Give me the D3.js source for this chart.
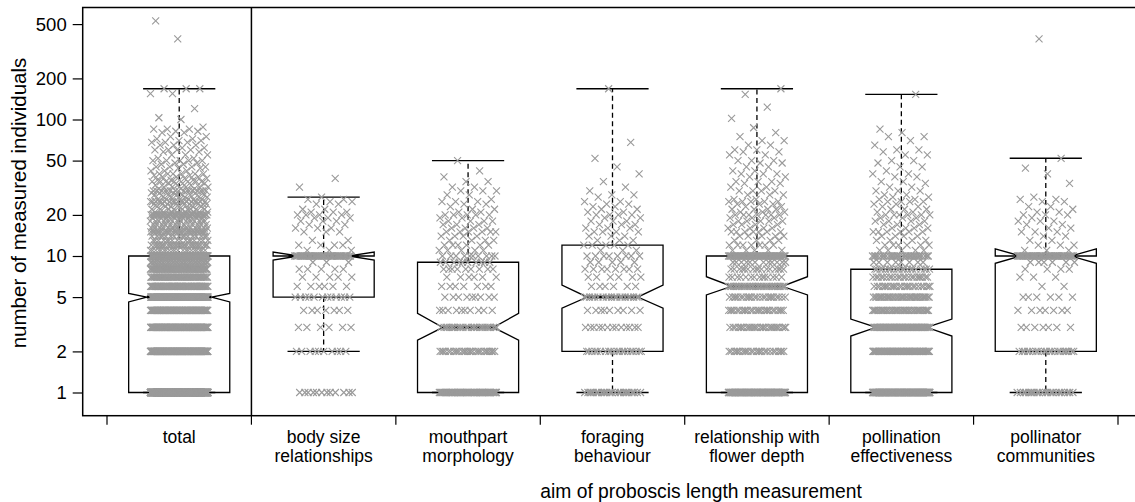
<!DOCTYPE html>
<html><head><meta charset="utf-8">
<script src="https://cdnjs.cloudflare.com/ajax/libs/d3/7.8.5/d3.min.js"></script>
<style>body{margin:0;background:#fff}svg{display:block}</style>
</head><body><svg id="chart" width="1135" height="502"></svg>
<script>
// ---------- data ----------
const categories = ["total","body size relationships","mouthpart morphology","foraging behaviour","relationship with flower depth","pollination effectiveness","pollinator communities"];
const categoryLabels = [["total"],["body size","relationships"],["mouthpart","morphology"],["foraging","behaviour"],["relationship with","flower depth"],["pollination","effectiveness"],["pollinator","communities"]];
const yTicks = [1,2,5,10,20,50,100,200,500];
const yTitle = "number of measured individuals";
const xTitle = "aim of proboscis length measurement";

const whiskerLow  = [1, 2, 1, 1, 1, 1, 1];
const quartile1   = [1, 5, 1, 2, 1, 1, 2];
const medians     = [5, 10, 3, 5, 6, 3, 10];
const quartile3   = [10, 10, 9, 12, 10, 8, 10];
const whiskerHigh = [168, 27, 50, 168, 168, 153, 52];
const notchLow    = [4.61, 9.35, 2.42, 4.14, 5.18, 2.59, 8.84];
const notchHigh   = [5.32, 10.7, 3.8, 6.13, 7.05, 3.45, 11.3];

// [value, number of observations]
const pointsTotal = [[1,480],[2,200],[3,130],[4,110],[5,150],[6,80],[7,55],[8,70],[9,35],[10,140],
 [11,20],[12,30],[13,16],[14,16],[15,30],[16,16],[17,12],[18,16],[19,9],[20,35],[21,8],[22,9],[23,6],[24,9],[25,18],[26,6],[27,5],[28,6],[29,4],[30,16],[31,3],[32,5],[33,3],[34,3],[35,7],[36,4],[37,2],[38,3],[39,2],[40,6],[42,3],[44,2],[45,4],[47,2],[48,2],[50,5],[52,2],[55,3],[58,2],[60,4],[62,2],[65,3],[68,3],[70,2],[72,2],[75,2],[80,2],[82,2],[85,3],[88,1],[100,1],[103,1],[120,1],[155,2],[168,3],[390,1],[527,1]];
const pointsBodySize = [[1,12],[2,10],[3,6],[4,7],[5,12],[6,6],[7,5],[8,5],[9,3],[10,45],[11,3],[12,4],[13,2],[15,3],[16,3],[17,2],[18,3],[19,3],[20,4],[21,3],[22,2],[24,2],[25,2],[26,2],[27,1],[32,1],[37,1]];
const pointsMouthpart = [[1,60],[2,28],[3,28],[4,10],[5,9],[6,7],[7,6],[8,9],[9,10],[10,10],[11,5],[12,6],[13,4],[14,4],[15,6],[16,4],[17,3],[18,4],[19,2],[20,5],[21,2],[22,2],[23,1],[24,2],[25,3],[26,1],[28,2],[30,3],[32,2],[35,2],[38,1],[42,1],[50,1]];
const pointsForaging = [[1,24],[2,20],[3,13],[4,9],[5,20],[6,6],[7,6],[8,8],[9,5],[10,8],[11,3],[12,5],[13,3],[14,3],[15,4],[16,3],[17,3],[18,3],[19,2],[20,4],[21,2],[22,2],[23,2],[24,2],[25,2],[27,1],[28,2],[30,1],[32,1],[35,1],[40,1],[45,1],[52,1],[68,1],[168,1]];
const pointsFlowerDepth = [[1,100],[2,25],[3,28],[4,26],[5,24],[6,35],[7,14],[8,16],[9,12],[10,50],[11,5],[12,7],[13,4],[14,5],[15,7],[16,4],[17,4],[18,5],[19,3],[20,7],[21,3],[22,4],[23,2],[24,3],[25,5],[26,2],[28,3],[30,4],[32,2],[34,2],[35,3],[38,2],[40,3],[42,2],[45,2],[48,2],[50,3],[55,2],[58,2],[60,2],[65,2],[70,2],[75,1],[80,1],[87,1],[102,1],[123,1],[153,1],[168,1]];
const pointsPollination = [[1,140],[2,70],[3,70],[4,40],[5,40],[6,25],[7,22],[8,20],[9,8],[10,30],[11,5],[12,6],[13,4],[14,4],[15,6],[16,4],[17,3],[18,4],[19,3],[20,6],[21,2],[22,3],[23,2],[24,2],[25,4],[26,2],[27,2],[28,2],[30,3],[32,2],[34,1],[35,2],[38,2],[40,2],[42,1],[45,2],[48,1],[50,2],[55,2],[58,1],[60,2],[65,1],[70,1],[75,2],[80,1],[85,1],[153,1]];
const pointsCommunities = [[1,22],[2,22],[3,7],[4,7],[5,6],[6,2],[7,3],[8,4],[9,6],[10,45],[11,3],[12,3],[13,2],[14,2],[15,3],[16,2],[17,2],[18,3],[19,1],[20,3],[21,2],[22,1],[23,2],[25,2],[26,2],[27,1],[34,1],[40,1],[44,1],[52,1],[390,1]];
const pointSets = [pointsTotal,pointsBodySize,pointsMouthpart,pointsForaging,pointsFlowerDepth,pointsPollination,pointsCommunities];

// ---------- layout / style ----------
const FONT = "'Liberation Sans', Arial, Helvetica, sans-serif";
const frame = {left: 82.7, top: 7.5, bottom: 415.7, right: 1140};
const svg = d3.select("#chart");
const x = d3.scaleBand().domain(categories).range([107, 1118]).padding(0);
const y = d3.scaleLog().domain([1, 10]).range([392.5, 256]);
const step = x.step();
const boxHalf = step * 0.35, capHalf = step * 0.25, jitterHalf = step * 0.2;
const notchFrac = categories.map((c,i) => i === 0 ? 0.64 : 0.5);
const pointColor = "#9a9a9a";

// frame
svg.append("rect").attr("x", frame.left).attr("y", frame.top)
  .attr("width", frame.right - frame.left).attr("height", frame.bottom - frame.top)
  .attr("fill", "none").attr("stroke", "#000").attr("stroke-width", 1.5);
svg.append("line").attr("x1", x(categories[1])).attr("x2", x(categories[1]))
  .attr("y1", frame.top).attr("y2", frame.bottom).attr("stroke", "#000").attr("stroke-width", 1.5);

// y axis
const yAxis = svg.append("g").attr("transform", `translate(${frame.left},0)`)
  .call(d3.axisLeft(y).tickValues(yTicks).tickFormat(d3.format("d")).tickSize(10).tickPadding(6));
yAxis.select(".domain").remove();
yAxis.selectAll("line").attr("stroke", "#000").attr("stroke-width", 1.2);
yAxis.selectAll("text").attr("font-family", FONT).attr("font-size", 18.5).attr("fill", "#000");

// x axis ticks at category edges
const edges = categories.map(c => x(c)).concat([x.range()[1]]);
svg.append("g").selectAll("line").data(edges).join("line")
  .attr("x1", d => d).attr("x2", d => d).attr("y1", frame.bottom).attr("y2", frame.bottom + 9)
  .attr("stroke", "#000").attr("stroke-width", 1.2);
const lab = svg.append("g").selectAll("text").data(categories).join("text")
  .attr("x", d => x(d) + step / 2).attr("y", 443)
  .attr("text-anchor", "middle").attr("font-family", FONT).attr("font-size", 17.5).attr("fill", "#000");
lab.each(function(d, i) {
  const t = d3.select(this);
  categoryLabels[i].forEach((s, k) => t.append("tspan").attr("x", x(d) + step / 2).attr("dy", k === 0 ? 0 : 19).text(s));
});

// titles
svg.append("text").attr("x", 701).attr("y", 498).attr("text-anchor", "middle")
  .attr("font-family", FONT).attr("font-size", 19.3).text(xTitle);
svg.append("text").attr("transform", "translate(26,203) rotate(-90)").attr("text-anchor", "middle")
  .attr("font-family", FONT).attr("font-size", 20.5).text(yTitle);

// boxes
const gBox = svg.append("g");
categories.forEach((c, i) => {
  const cx = x(c) + step / 2, nw = boxHalf * notchFrac[i];
  const pts = [
    [cx - boxHalf, y(quartile1[i])], [cx - boxHalf, y(notchLow[i])], [cx - nw, y(medians[i])],
    [cx - boxHalf, y(notchHigh[i])], [cx - boxHalf, y(quartile3[i])], [cx + boxHalf, y(quartile3[i])],
    [cx + boxHalf, y(notchHigh[i])], [cx + nw, y(medians[i])], [cx + boxHalf, y(notchLow[i])],
    [cx + boxHalf, y(quartile1[i])]];
  gBox.append("polygon").attr("points", pts.map(p => p.join(",")).join(" "))
    .attr("fill", "none").attr("stroke", "#000").attr("stroke-width", 1.3).attr("stroke-linejoin", "miter");
  gBox.append("line").attr("x1", cx - nw).attr("x2", cx + nw).attr("y1", y(medians[i])).attr("y2", y(medians[i]))
    .attr("stroke", "#000").attr("stroke-width", 3);
  [[quartile3[i], whiskerHigh[i]], [quartile1[i], whiskerLow[i]]].forEach(([a, b]) => {
    if (a !== b) gBox.append("line").attr("x1", cx).attr("x2", cx).attr("y1", y(a)).attr("y2", y(b))
      .attr("stroke", "#000").attr("stroke-width", 1.3).attr("stroke-dasharray", "5,3.5");
    gBox.append("line").attr("x1", cx - capHalf).attr("x2", cx + capHalf).attr("y1", y(b)).attr("y2", y(b))
      .attr("stroke", "#000").attr("stroke-width", 1.3);
  });
});

// points (deterministic horizontal spread)
const gPts = svg.append("g").attr("fill", "none").attr("stroke", pointColor).attr("stroke-width", 1.1);
const cross = "M-3.5,-3.5L3.5,3.5M-3.5,3.5L3.5,-3.5";
categories.forEach((c, i) => {
  const cx = x(c) + step / 2;
  let k = 0;
  const flat = [];
  pointSets[i].forEach(([v, n]) => { for (let j = 0; j < n; j++) flat.push({v, k: k++}); });
  gPts.selectAll(null).data(flat).join("path")
    .attr("d", cross)
    .attr("transform", d => {
      const u = ((d.k * 0.6180339887 + i * 0.377) % 1) - 0.5;
      return `translate(${(cx + u * 2 * jitterHalf).toFixed(2)},${y(d.v).toFixed(2)})`;
    });
});
</script></body></html>
